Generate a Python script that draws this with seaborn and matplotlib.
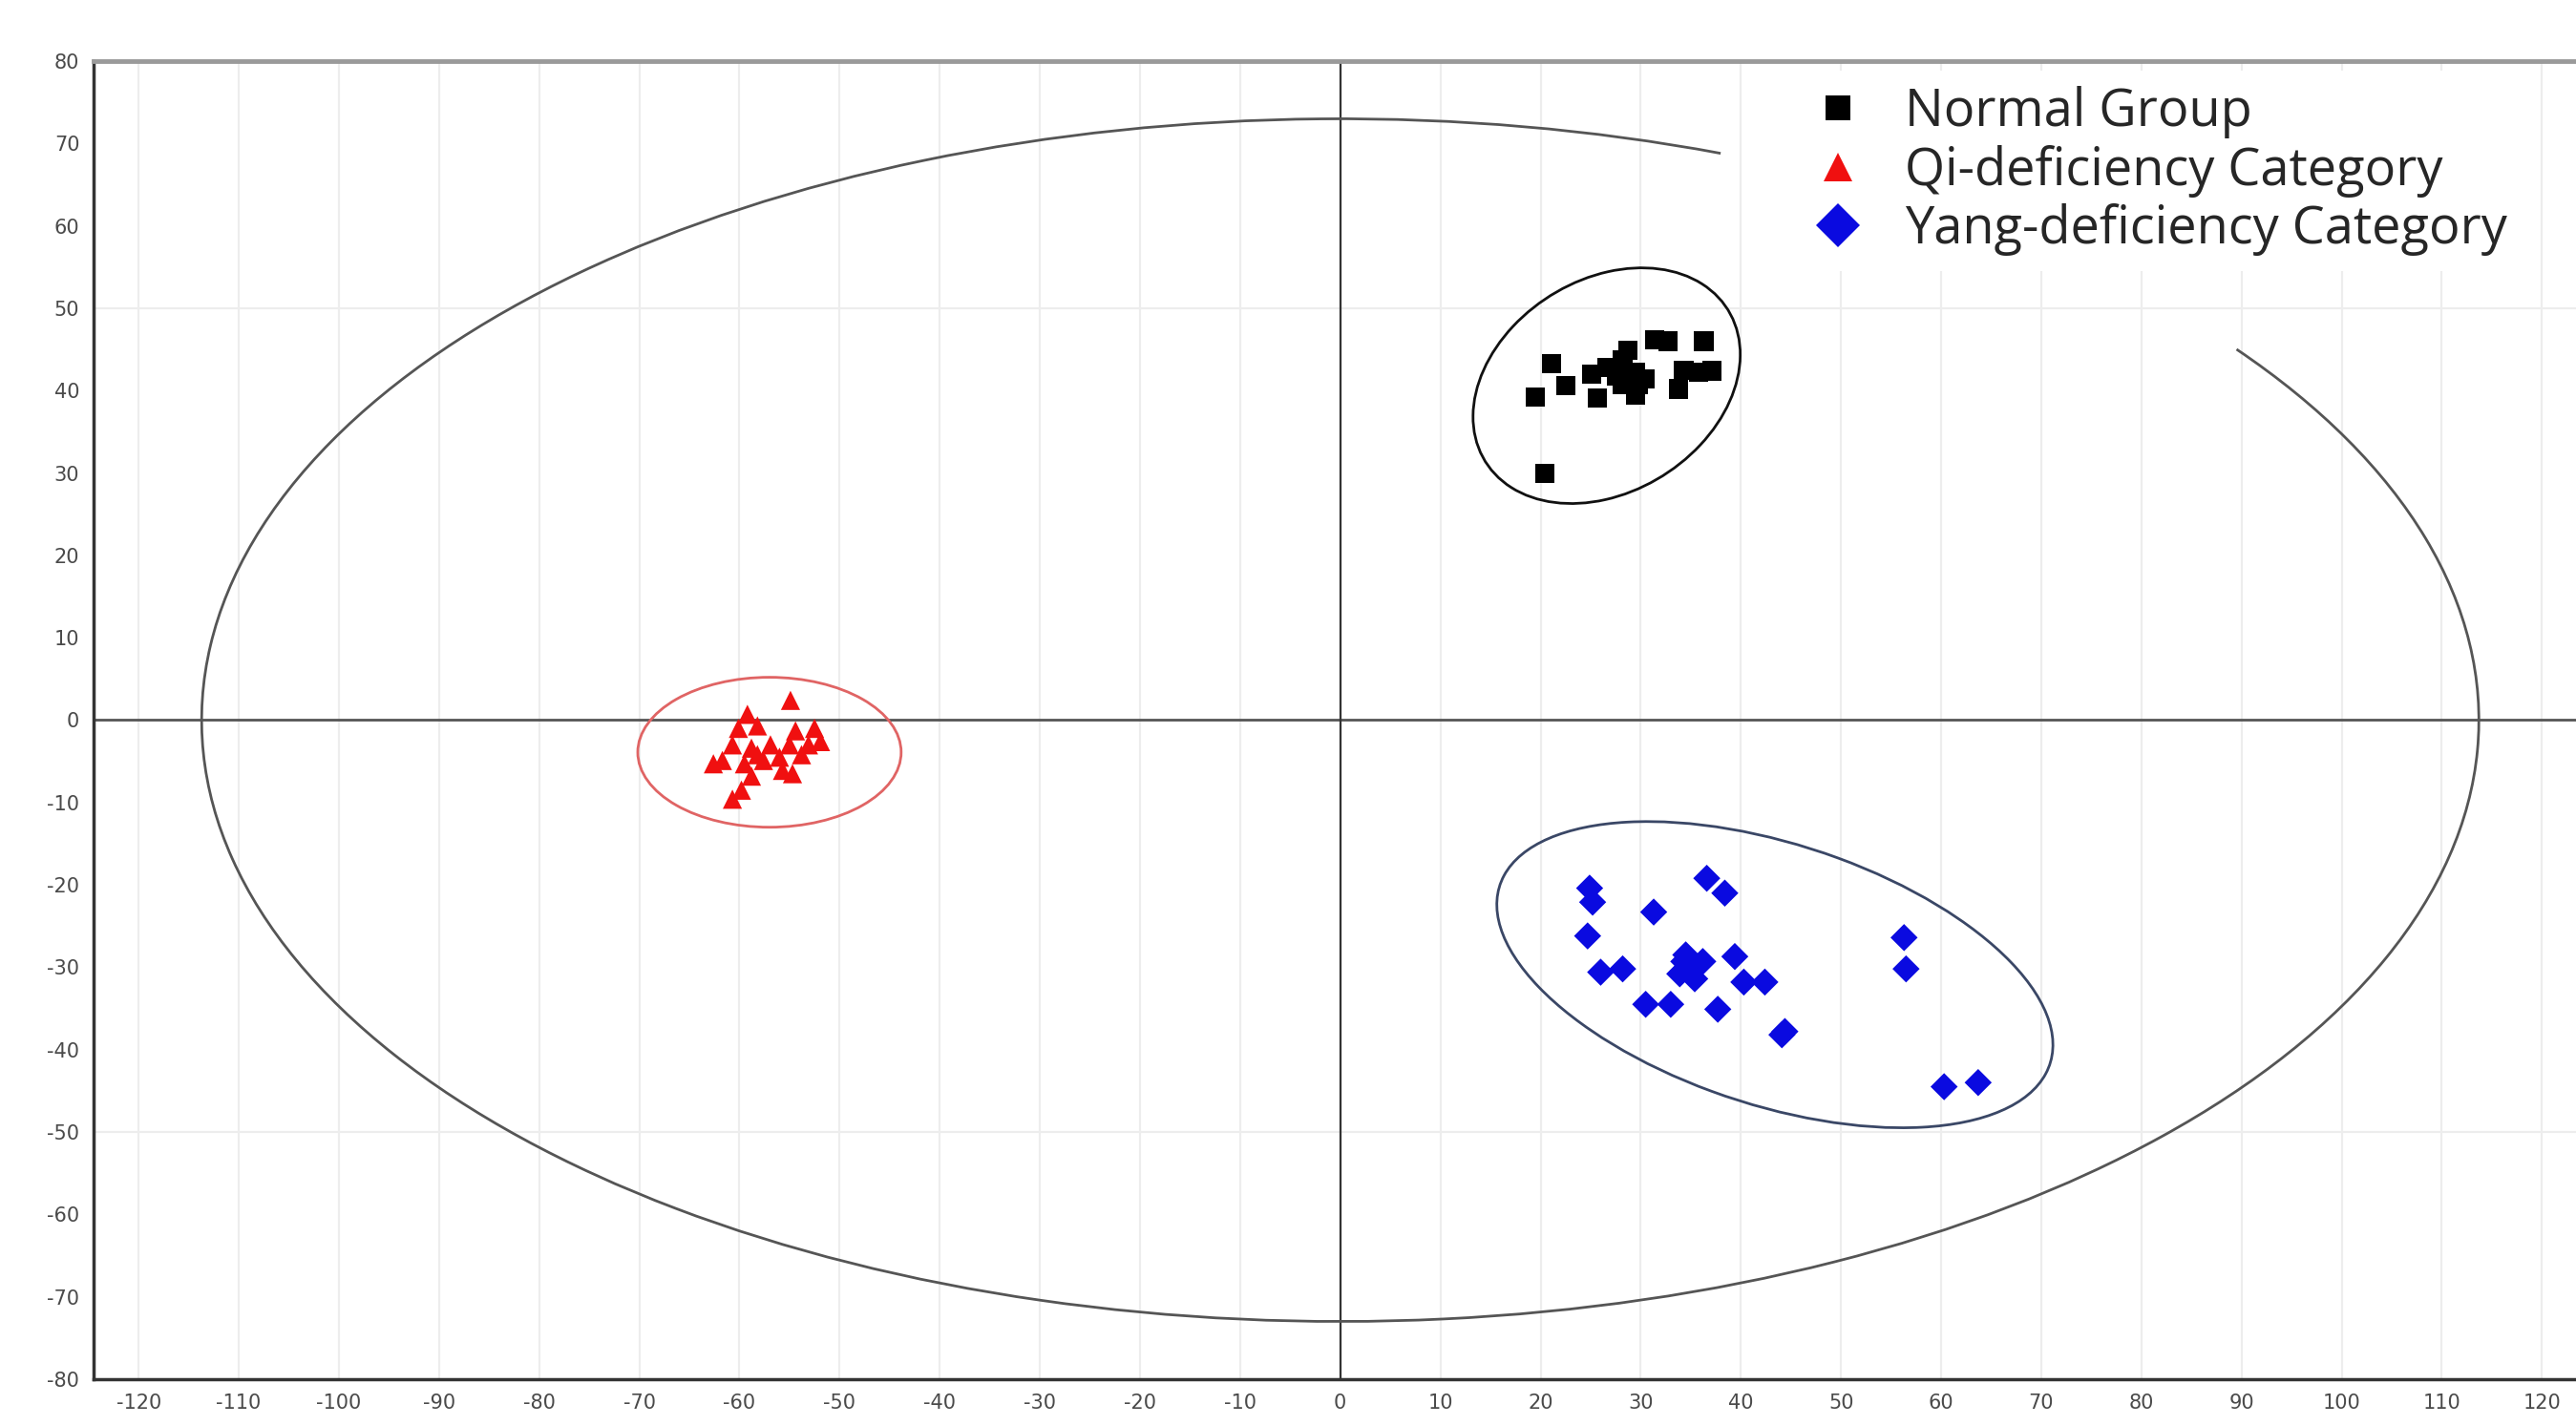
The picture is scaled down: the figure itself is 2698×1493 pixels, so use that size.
import pandas as pd
import seaborn as sns
import matplotlib.pyplot as plt
from matplotlib.patches import Ellipse, Arc
from matplotlib.ticker import MultipleLocator

# score plot values (t[1] horizontal, t[2] vertical)
normal_t1 = [21.1, 22.5, 19.5, 25.7, 25.1, 26.6, 28.2, 28.7, 29.5, 29.5, 28.2,
             30.4, 31.4, 32.7, 36.3, 33.8, 34.3, 35.8, 37.1, 20.4, 27.6, 29.8]
normal_t2 = [43.3, 40.6, 39.2, 39.1, 42.0, 42.8, 43.7, 44.9, 42.2, 39.5, 40.7,
             41.4, 46.2, 46.0, 46.0, 40.2, 42.5, 42.2, 42.4, 30.0, 41.8, 40.7]

qi_t1 = [-54.9, -59.2, -58.2, -60.1, -54.4, -52.5, -51.9, -53.1, -55.0, -56.9, -58.8, -60.7,
         -62.6, -61.7, -59.5, -57.6, -55.7, -54.7, -58.8, -59.8, -60.7, -56.0, -53.8, -58.2]
qi_t2 = [2.4, 0.7, -0.7, -1.0, -1.3, -1.0, -2.6, -3.0, -3.0, -3.0, -3.4, -3.0,
         -5.3, -4.9, -5.3, -4.9, -6.1, -6.5, -6.8, -8.5, -9.6, -4.5, -4.2, -4.2]

yang_t1 = [24.9, 25.2, 24.7, 31.3, 36.6, 38.4, 26.0, 28.2, 34.5, 36.2, 33.9, 35.4, 35.0,
           39.4, 40.3, 42.4, 30.5, 33.0, 37.7, 44.1, 44.4, 56.3, 56.5, 60.3, 63.7, 34.3]
yang_t2 = [-20.4, -22.1, -26.2, -23.3, -19.2, -21.0, -30.6, -30.2, -28.5, -29.3, -30.8, -31.4, -30.0,
           -28.7, -31.8, -31.8, -34.5, -34.5, -35.1, -38.2, -37.8, -26.4, -30.2, -44.5, -44.0, -29.3]

groups = ["Normal Group", "Qi-deficiency Category", "Yang-deficiency Category"]
colors = ["#000000", "#f01010", "#0a0ae0"]
markers = ["s", "^", "D"]

# group confidence ellipses: centre, width, height, angle
ell_center = [(26.6, 40.6), (-57.0, -3.9), (43.4, -30.9)]
ell_width = [31.2, 26.3, 59.2]
ell_height = [23.6, 18.2, 31.0]
ell_angle = [52.4, 0.0, -24.0]
ell_color = ["#111111", "#e06464", "#3a4766"]

# Hotelling T2 ellipse (semi axes) and the part hidden behind the legend
t2_a, t2_b = 113.7, 73.0
t2_gap = (26.7, 61.1)

x_grid_step = 10
h_grid = [-50, 50]

df = pd.DataFrame({
    "t1": normal_t1 + qi_t1 + yang_t1,
    "t2": normal_t2 + qi_t2 + yang_t2,
    "group": [groups[0]] * len(normal_t1) + [groups[1]] * len(qi_t1) + [groups[2]] * len(yang_t1),
})

sns.set_style("white")
plt.rcParams["font.family"] = ["DejaVu Sans"]
plt.rcParams["axes.unicode_minus"] = False

fig = plt.figure(figsize=(26.98, 14.93), dpi=100)
ax = fig.add_axes([0.0363, 0.0322, 0.9637, 0.9249])

# faint grid + zero lines
ax.set_xlim(-124.5, 123.4)
ax.set_ylim(-80, 80)
ax.xaxis.set_major_locator(MultipleLocator(x_grid_step))
ax.xaxis.set_minor_locator(MultipleLocator(5))
ax.yaxis.set_major_locator(MultipleLocator(10))
ax.yaxis.set_minor_locator(MultipleLocator(5))
ax.grid(axis="x", which="major", color="#ededed", lw=1.6, zorder=0)
ax.grid(axis="y", visible=False)
for yy in h_grid:
    ax.axhline(yy, color="#ededed", lw=1.6, zorder=0)
ax.axhline(0, color="#555555", lw=2.0, zorder=1)
ax.axvline(0, color="#333333", lw=1.6, zorder=1)

# big T2 ellipse with the gap under the legend
ax.add_patch(Arc((0, 0), 2 * t2_a, 2 * t2_b, theta1=t2_gap[1], theta2=t2_gap[0] + 360,
                 color="#555555", lw=2.0, zorder=2))

for c, w, h, a, col in zip(ell_center, ell_width, ell_height, ell_angle, ell_color):
    ax.add_patch(Ellipse(c, w, h, angle=a, fill=False, ec=col, lw=2.0, zorder=2))

sns.scatterplot(data=df, x="t1", y="t2", hue="group", style="group",
                hue_order=groups, style_order=groups,
                palette=dict(zip(groups, colors)), markers=dict(zip(groups, markers)),
                s=210, linewidth=0, zorder=3, ax=ax)

handles, labels = ax.get_legend_handles_labels()
keep = [(h, l) for h, l in zip(handles, labels) if l in groups]
leg = ax.legend([h for h, _ in keep], [l for _, l in keep],
                loc="upper left", bbox_to_anchor=(43.5, 82.0), bbox_transform=ax.transData,
                frameon=True, facecolor="white", edgecolor="none", framealpha=1,
                prop={"family": "Open Sans", "size": 39}, labelcolor="#262626",
                handlelength=0.8, handletextpad=0.9, labelspacing=0.12, borderpad=0.3)
leg.set_zorder(2.2)
for h, ms in zip(leg.legend_handles, [19, 22, 23]):
    h.set_markersize(ms)

ax.set_xlabel("")
ax.set_ylabel("")

for side in ["left", "bottom"]:
    ax.spines[side].set_color("#333333")
    ax.spines[side].set_linewidth(2.5)
ax.spines["top"].set_color("#9a9a9a")
ax.spines["top"].set_linewidth(3.5)
ax.spines["right"].set_visible(False)

ax.tick_params(which="both", direction="inout", length=9, width=2.2, color="#333333")
ax.tick_params(which="major", labelsize=15, labelcolor="#4a4a4a", pad=6)

fig.savefig("out.png", dpi=100, facecolor="white")
